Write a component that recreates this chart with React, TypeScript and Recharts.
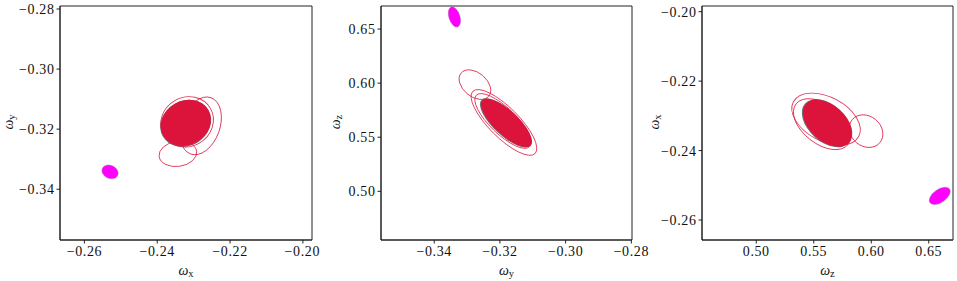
import React from "react";
import { ScatterChart, Scatter, XAxis, YAxis, ReferenceArea } from "recharts";

// each ellipse: centre (x, y), half-axes rx / ry in data units, tilt in degrees
type Ellipse = { x: number; y: number; rx: number; ry: number; angle: number };

const omegaXTicks = [-0.26, -0.24, -0.22, -0.2];
const omegaYTicks = [-0.34, -0.32, -0.3, -0.28];
const omegaZTicks = [0.5, 0.55, 0.6, 0.65];

const omegaXDomainA = [-0.2667, -0.1975];
const omegaYDomainA = [-0.3569, -0.279];
const omegaYDomainB = [-0.3562, -0.2798];
const omegaZDomainB = [0.455, 0.6713];
const omegaZDomainC = [0.4528, 0.6711];
const omegaXDomainC = [-0.26576, -0.19836];

const xyFilled: Ellipse[] = [{ x: -0.23214, y: -0.3179, rx: 0.00712, ry: 0.00733, angle: 30 }];
const xyContours: Ellipse[] = [
  { x: -0.23181, y: -0.31757, rx: 0.0074, ry: 0.00817, angle: 30 },
  { x: -0.22803, y: -0.3189, rx: 0.00822, ry: 0.00633, angle: 70 },
  { x: -0.23433, y: -0.32823, rx: 0.0052, ry: 0.00417, angle: 8 },
];
const xyTruth: Ellipse[] = [{ x: -0.25296, y: -0.33423, rx: 0.00233, ry: 0.00217, angle: -25 }];

const yzFilled: Ellipse[] = [{ x: -0.31802, y: 0.56322, rx: 0.01005, ry: 0.01109, angle: -43 }];
const yzContours: Ellipse[] = [
  { x: -0.31878, y: 0.56368, rx: 0.0134, ry: 0.01386, angle: -45 },
  { x: -0.31909, y: 0.56506, rx: 0.01127, ry: 0.01201, angle: -44 },
  { x: -0.32761, y: 0.59861, rx: 0.00548, ry: 0.01109, angle: -40 },
];
const yzTruth: Ellipse[] = [{ x: -0.33385, y: 0.66118, rx: 0.0032, ry: 0.00508, angle: -72 }];

const zxFilled: Ellipse[] = [{ x: 0.562, y: -0.2321, rx: 0.02522, ry: 0.00519, angle: -42 }];
const zxContours: Ellipse[] = [
  { x: 0.56069, y: -0.23095, rx: 0.03217, ry: 0.00634, angle: -28 },
  { x: 0.55722, y: -0.23239, rx: 0.0287, ry: 0.00562, angle: -38 },
  { x: 0.59548, y: -0.2344, rx: 0.01565, ry: 0.00432, angle: -40 },
];
const zxTruth: Ellipse[] = [{ x: 0.6596, y: -0.25305, rx: 0.01043, ry: 0.00187, angle: 35 }];

const FONT = '"Liberation Serif", "DejaVu Serif", serif';
const CRIMSON = "#DC143C";
const MAGENTA = "#FF00FF";
const H = 281;
const TOP = 6;
const PLOT_BOTTOM = 240;

const fmt = (v: number) => (v < 0 ? "\u2212" : "") + Math.abs(v).toFixed(2);

type Variant = "filled" | "contour" | "truth";

const EllipseMark = (props: any) => {
  const { cx, cy, payload, kx, ky, variant } = props;
  if (cx == null || cy == null) return null;
  const a = payload.rx * kx;
  const b = payload.ry * ky;
  const t = `rotate(${-payload.angle} ${cx} ${cy})`;
  if (variant === "filled") {
    return (
      <g transform={t}>
        <ellipse cx={cx - 0.4} cy={cy + 0.4} rx={a + 0.5} ry={b + 0.5} fill="#707070" />
        <ellipse cx={cx} cy={cy} rx={a} ry={b} fill={CRIMSON} />
      </g>
    );
  }
  if (variant === "truth") {
    return <ellipse cx={cx} cy={cy} rx={a} ry={b} transform={t} fill={MAGENTA} stroke="#a070a0" strokeWidth={0.4} />;
  }
  return <ellipse cx={cx} cy={cy} rx={a} ry={b} transform={t} fill="none" stroke={CRIMSON} strokeOpacity={0.85} strokeWidth={0.9} />;
};

interface PanelProps {
  left: number;
  yAxisWidth: number;
  plotRight: number;
  marginRight: number;
  xDomain: number[];
  yDomain: number[];
  xTicks: number[];
  yTicks: number[];
  xName: string;
  yName: string;
  yLabelX: number;
  filled: Ellipse[];
  contours: Ellipse[];
  truth: Ellipse[];
}

const Omega = ({ sub }: { sub: string }) => (
  <>
    <tspan fontStyle="italic">ω</tspan>
    <tspan fontSize={10.5} dy={2}>{sub}</tspan>
  </>
);

function Panel(p: PanelProps) {
  const width = p.plotRight + p.marginRight;
  const plotW = p.plotRight - p.yAxisWidth;
  const plotH = PLOT_BOTTOM - TOP;
  const kx = plotW / (p.xDomain[1] - p.xDomain[0]);
  const ky = plotH / (p.yDomain[1] - p.yDomain[0]);
  const tickStyle = { fill: "#111", fontSize: 14, fontFamily: FONT, letterSpacing: 0.6 };
  const series: [Ellipse[], Variant][] = [
    [p.filled, "filled"],
    [p.contours, "contour"],
    [p.truth, "truth"],
  ];
  const yMid = TOP + plotH / 2 - 1;
  return (
    <div style={{ position: "absolute", left: p.left, top: 0 }}>
      <ScatterChart width={width} height={H} margin={{ top: TOP, right: p.marginRight, bottom: 6, left: 0 }}>
        <XAxis
          type="number"
          dataKey="x"
          domain={p.xDomain}
          ticks={p.xTicks}
          tickFormatter={fmt}
          allowDataOverflow
          height={35}
          tickSize={3.5}
          tickMargin={3}
          stroke="#222"
          tick={tickStyle}
          label={{
            content: () => (
              <text x={p.yAxisWidth + plotW / 2} y={275} textAnchor="middle" fontFamily={FONT} fontSize={14} fill="#111">
                <Omega sub={p.xName} />
              </text>
            ),
          }}
        />
        <YAxis
          type="number"
          dataKey="y"
          domain={p.yDomain}
          ticks={p.yTicks}
          tickFormatter={fmt}
          allowDataOverflow
          width={p.yAxisWidth}
          tickSize={3.5}
          tickMargin={2}
          stroke="#222"
          tick={tickStyle}
          label={{
            content: () => (
              <text
                x={p.yLabelX}
                y={yMid}
                transform={`rotate(-90 ${p.yLabelX} ${yMid})`}
                textAnchor="middle"
                fontFamily={FONT}
                fontSize={14}
                fill="#111"
              >
                <Omega sub={p.yName} />
              </text>
            ),
          }}
        />
        <ReferenceArea
          x1={p.xDomain[0]}
          x2={p.xDomain[1]}
          y1={p.yDomain[0]}
          y2={p.yDomain[1]}
          ifOverflow="visible"
          fill="none"
          stroke="#222"
          strokeWidth={1}
          fillOpacity={0}
        />
        {series.map(([data, variant]) => (
          <Scatter
            key={variant}
            data={data}
            isAnimationActive={false}
            shape={(s: any) => <EllipseMark {...s} kx={kx} ky={ky} variant={variant} />}
          />
        ))}
      </ScatterChart>
    </div>
  );
}

export default function App() {
  return (
    <div style={{ position: "absolute", left: 0, top: 0, width: 957, height: H, background: "#fff", overflow: "hidden" }}>
      <Panel
        left={0}
        yAxisWidth={60}
        plotRight={312}
        marginRight={8}
        xDomain={omegaXDomainA}
        yDomain={omegaYDomainA}
        xTicks={omegaXTicks}
        yTicks={omegaYTicks}
        xName="x"
        yName="y"
        yLabelX={13}
        filled={xyFilled}
        contours={xyContours}
        truth={xyTruth}
      />
      <Panel
        left={320}
        yAxisWidth={61}
        plotRight={312}
        marginRight={25}
        xDomain={omegaYDomainB}
        yDomain={omegaZDomainB}
        xTicks={omegaYTicks}
        yTicks={omegaZTicks}
        xName="y"
        yName="z"
        yLabelX={20}
        filled={yzFilled}
        contours={yzContours}
        truth={yzTruth}
      />
      <Panel
        left={637}
        yAxisWidth={65}
        plotRight={316}
        marginRight={4}
        xDomain={omegaZDomainC}
        yDomain={omegaXDomainC}
        xTicks={omegaZTicks}
        yTicks={omegaXTicks}
        xName="z"
        yName="x"
        yLabelX={22}
        filled={zxFilled}
        contours={zxContours}
        truth={zxTruth}
      />
    </div>
  );
}
